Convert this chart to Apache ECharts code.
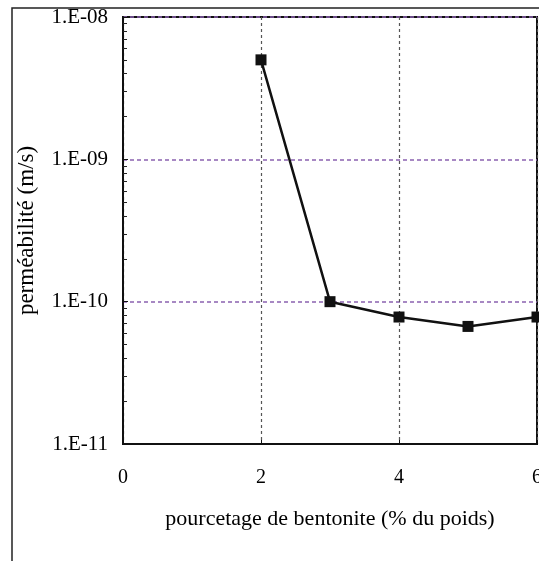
<!DOCTYPE html>
<html><head><meta charset="utf-8">
<script src="https://cdn.jsdelivr.net/npm/echarts@6/dist/echarts.min.js"></script>
<style>html,body{margin:0;padding:0;background:#fff}#c{width:539px;height:561px}</style>
</head><body><div id="c"></div>
<script>
var xValues = [2, 3, 4, 5, 6];
var permeability = [5.0e-9, 1.0e-10, 7.8e-11, 6.7e-11, 7.8e-11];
var xTicks = [0, 2, 4, 6];
var yTickLabels = ['1.E-11', '1.E-10', '1.E-09', '1.E-08'];
var minorTicks = [];
[-11, -10, -9].forEach(function (e) { for (var k = 2; k <= 9; k++) minorTicks.push(k * Math.pow(10, e)); });

var font = 'Liberation Serif';
var chart = echarts.init(document.getElementById('c'));
function fmt(v) {
  var e = Math.round(Math.log10(v));
  return yTickLabels[e + 11];
}
chart.setOption({
  animation: false,
  graphic: [{type: 'rect', shape: {x: 12, y: 8, width: 700, height: 700}, style: {fill: 'none', stroke: '#222', lineWidth: 1.5}, silent: true}],
  grid: {left: 123, right: 2, top: 17, bottom: 117, outerBoundsMode: 'none', containLabel: false, show: true, borderColor: '#111', borderWidth: 2, backgroundColor: 'transparent'},
  xAxis: {
    type: 'value', min: 0, max: 6, interval: 2,
    name: 'pourcetage de bentonite (% du poids)', nameLocation: 'middle', nameGap: 64,
    nameTextStyle: {fontFamily: font, fontSize: 22, color: '#000'},
    axisLine: {onZero: false, lineStyle: {color: '#111', width: 2}},
    axisTick: {show: true, inside: true, length: 4, lineStyle: {color: '#111'}},
    axisLabel: {fontFamily: font, fontSize: 20, color: '#000', margin: 24},
    splitLine: {show: true, lineStyle: {color: '#555', type: [3, 3], width: 1.2}}
  },
  yAxis: [{
    type: 'log', logBase: 10, min: 1e-11, max: 1e-8,
    name: 'perméabilité (m/s)', nameLocation: 'middle', nameGap: 85,
    nameTextStyle: {fontFamily: font, fontSize: 23, color: '#000'},
    axisLine: {show: true, lineStyle: {color: '#111', width: 2}},
    axisTick: {show: true, inside: true, length: 5, lineStyle: {color: '#111'}},
    axisLabel: {fontFamily: font, fontSize: 21, color: '#000', margin: 15, formatter: fmt},
    splitLine: {show: true, lineStyle: {color: '#8a62b0', type: [4, 3], width: 1.5}}
  }, {
    type: 'log', logBase: 10, min: 1e-11, max: 1e-8, position: 'left', offset: 0,
    axisLine: {show: false},
    axisTick: {show: true, inside: true, length: 4, customValues: minorTicks, lineStyle: {color: '#222'}},
    axisLabel: {show: false},
    splitLine: {show: false}
  }],
  series: [{
    type: 'line', yAxisIndex: 0,
    data: xValues.map(function (x, i) { return [x, permeability[i]]; }),
    symbol: 'rect', symbolSize: 11, showSymbol: true,
    lineStyle: {color: '#111', width: 2.5},
    itemStyle: {color: '#111'}
  }]
});
</script></body></html>
